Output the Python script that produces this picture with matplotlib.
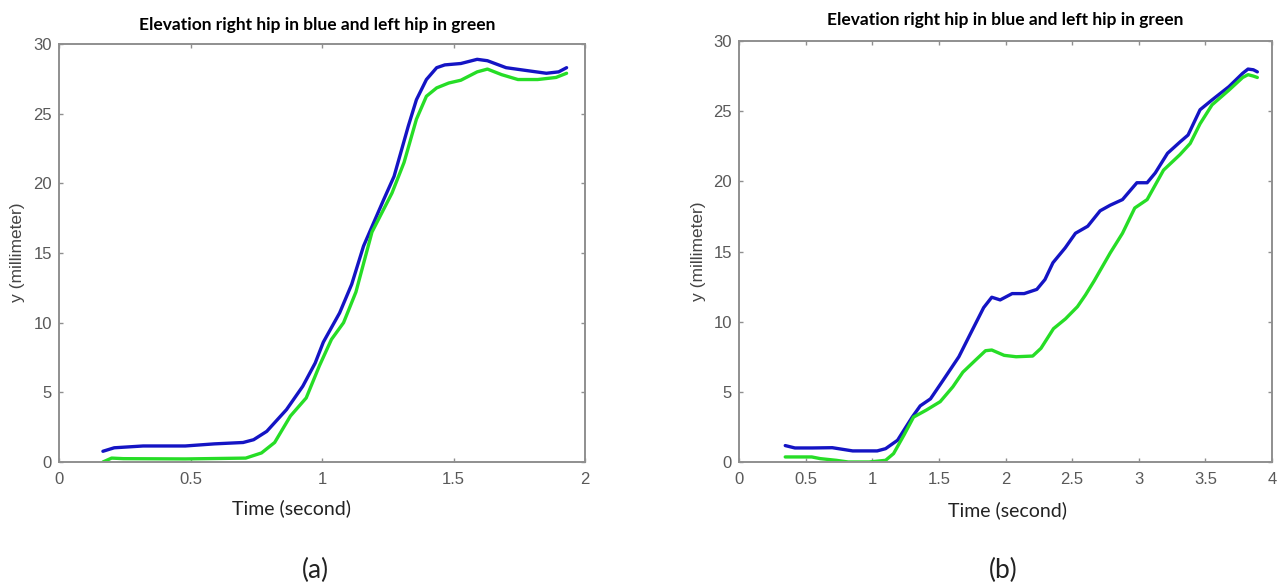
import matplotlib
matplotlib.use("Agg")
import matplotlib.pyplot as plt
from matplotlib.ticker import FuncFormatter

# hip elevation, run (a)
t_a_right = [0.167, 0.21, 0.32, 0.48, 0.59, 0.70, 0.74, 0.79, 0.865, 0.927, 0.974, 1.005,
             1.067, 1.113, 1.158, 1.235, 1.274, 1.328, 1.359, 1.397, 1.436, 1.467, 1.528,
             1.59, 1.629, 1.70, 1.776, 1.853, 1.90, 1.93]
y_a_right = [0.77, 1.02, 1.15, 1.15, 1.3, 1.4, 1.6, 2.2, 3.76, 5.44, 7.1, 8.6,
             10.7, 12.76, 15.5, 18.85, 20.5, 24.1, 26.0, 27.45, 28.3, 28.5, 28.6,
             28.9, 28.8, 28.3, 28.1, 27.9, 28.0, 28.3]
t_a_left = [0.167, 0.20, 0.245, 0.48, 0.71, 0.77, 0.82, 0.88, 0.94, 0.99, 1.036, 1.082,
            1.129, 1.19, 1.266, 1.312, 1.359, 1.397, 1.436, 1.482, 1.528, 1.59, 1.629,
            1.683, 1.745, 1.82, 1.89, 1.93]
y_a_left = [0.0, 0.28, 0.24, 0.22, 0.28, 0.65, 1.4, 3.3, 4.6, 6.9, 8.8, 10.0,
            12.2, 16.5, 19.3, 21.5, 24.6, 26.25, 26.85, 27.2, 27.4, 28.0, 28.2,
            27.8, 27.45, 27.45, 27.6, 27.9]

# hip elevation, run (b)
t_b_right = [0.347, 0.42, 0.55, 0.70, 0.853, 1.037, 1.10, 1.19, 1.30, 1.36, 1.437, 1.53,
             1.65, 1.74, 1.836, 1.897, 1.96, 2.05, 2.14, 2.235, 2.296, 2.356, 2.448,
             2.525, 2.617, 2.71, 2.786, 2.878, 2.986, 3.063, 3.124, 3.216, 3.309, 3.37,
             3.46, 3.55, 3.677, 3.78, 3.82, 3.86, 3.89]
y_b_right = [1.17, 1.0, 1.0, 1.02, 0.79, 0.79, 0.95, 1.55, 3.2, 4.0, 4.5, 5.8,
             7.5, 9.2, 11.0, 11.74, 11.55, 12.0, 12.0, 12.3, 13.0, 14.2, 15.26,
             16.3, 16.8, 17.9, 18.3, 18.7, 19.9, 19.9, 20.6, 22.0, 22.8, 23.3,
             25.1, 25.8, 26.75, 27.7, 28.0, 27.95, 27.8]
t_b_left = [0.347, 0.546, 0.61, 0.73, 0.82, 0.976, 1.10, 1.16, 1.237, 1.31, 1.406, 1.51,
            1.605, 1.68, 1.775, 1.85, 1.897, 1.99, 2.08, 2.204, 2.266, 2.36, 2.45,
            2.54, 2.60, 2.665, 2.786, 2.878, 2.97, 3.063, 3.186, 3.309, 3.386, 3.46,
            3.55, 3.677, 3.78, 3.82, 3.86, 3.89]
y_b_left = [0.36, 0.36, 0.24, 0.12, 0.0, 0.0, 0.12, 0.6, 1.9, 3.2, 3.7, 4.3,
            5.36, 6.4, 7.26, 7.93, 7.98, 7.6, 7.5, 7.55, 8.1, 9.5, 10.2,
            11.07, 11.9, 12.9, 14.9, 16.3, 18.1, 18.7, 20.8, 21.9, 22.7, 24.1,
            25.45, 26.5, 27.4, 27.6, 27.5, 27.4]

xticks_a = [0, 0.5, 1, 1.5, 2]
xticks_b = [0, 0.5, 1, 1.5, 2, 2.5, 3, 3.5, 4]
yticks = [0, 5, 10, 15, 20, 25, 30]
title = "Elevation right hip in blue and left hip in green"

BLUE = "#1414c4"
GREEN = "#26dd26"
SPINE = "#8f8f8f"
TICKTXT = "#595959"

fig = plt.figure(figsize=(12.82, 5.88), dpi=100)
ax_a = fig.add_axes([59 / 1282, 1 - 462 / 588, 526 / 1282, 418 / 588])
ax_b = fig.add_axes([739 / 1282, 1 - 462 / 588, 533 / 1282, 421 / 588])

panels = [
    (ax_a, t_a_right, y_a_right, t_a_left, y_a_left, xticks_a),
    (ax_b, t_b_right, y_b_right, t_b_left, y_b_left, xticks_b),
]

fmt = FuncFormatter(lambda v, p: ("%g" % v))

for ax, tr, yr, tl, yl, xt in panels:
    ax.plot(tr, yr, color=BLUE, lw=2.4, solid_joinstyle="round", solid_capstyle="round")
    ax.plot(tl, yl, color=GREEN, lw=2.4, solid_joinstyle="round", solid_capstyle="round")
    ax.set_xlim(xt[0], xt[-1])
    ax.set_ylim(0, 30)
    ax.set_xticks(xt)
    ax.set_yticks(yticks)
    ax.xaxis.set_major_formatter(fmt)
    ax.yaxis.set_major_formatter(fmt)
    for s in ax.spines.values():
        s.set_color(SPINE)
        s.set_linewidth(1.4)
    ax.tick_params(direction="in", length=3, width=1, color=SPINE,
                   top=True, right=True, labelsize=12, labelcolor=TICKTXT)
    ax.tick_params(axis="x", pad=7)
    ax.tick_params(axis="y", pad=5)
    for lab in ax.get_xticklabels() + ax.get_yticklabels():
        lab.set_family("Liberation Sans")

# titles, axis labels and panel letters
fig.text(317 / 1282, 1 - 25 / 588, title, ha="center", va="center",
         fontsize=12.5, fontweight="bold", family="Lato")
fig.text(1005 / 1282, 1 - 20 / 588, title, ha="center", va="center",
         fontsize=12.5, fontweight="bold", family="Lato")

fig.text(291 / 1282, 1 - 508 / 588, "Time (second)", ha="center", va="center",
         fontsize=14, family="Lato", color="#222222")
fig.text(1008 / 1282, 1 - 510 / 588, "Time (second)", ha="center", va="center",
         fontsize=14, family="Lato", color="#222222")

fig.text(18 / 1282, 1 - 252 / 588, "y (millimeter)", ha="center", va="center",
         rotation=90, fontsize=12.5, family="Liberation Sans", color="#444444")
fig.text(698 / 1282, 1 - 251 / 588, "y (millimeter)", ha="center", va="center",
         rotation=90, fontsize=12.5, family="Liberation Sans", color="#444444")

fig.text(315 / 1282, 1 - 570 / 588, "(a)", ha="center", va="center",
         fontsize=19, family="Lato", color="#222222")
fig.text(1003 / 1282, 1 - 570 / 588, "(b)", ha="center", va="center",
         fontsize=19, family="Lato", color="#222222")

fig.savefig("out.png", dpi=100)
